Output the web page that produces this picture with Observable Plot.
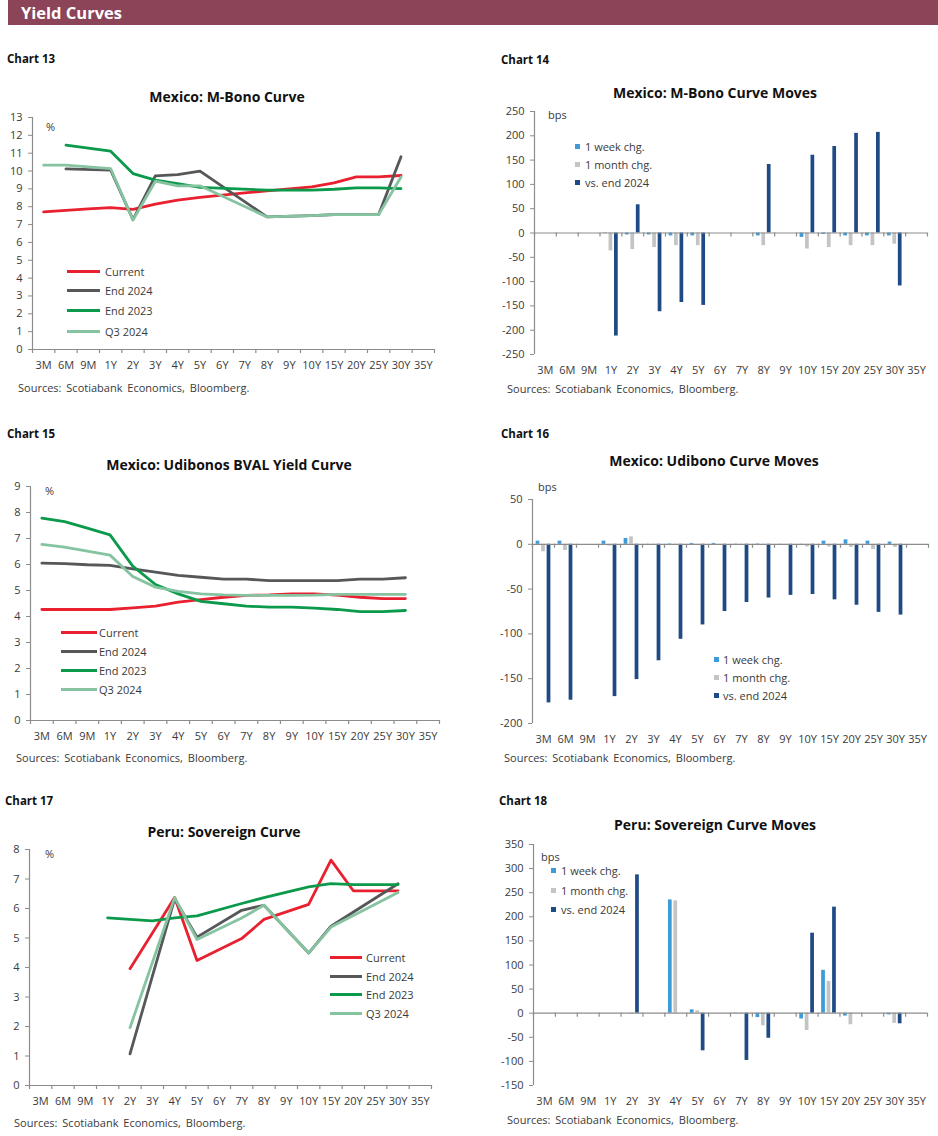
<!DOCTYPE html>
<html><head><meta charset="utf-8">
<script src="https://cdn.jsdelivr.net/npm/d3@7"></script>
<script src="https://cdn.jsdelivr.net/npm/@observablehq/plot@0.6"></script>
<style>
body{margin:0;background:#fff;font-family:"Open Sans",sans-serif;}
#page{position:relative;width:938px;height:1136px;overflow:hidden;background:#fff;}
.abs{position:absolute;white-space:nowrap;line-height:1;}
svg{position:absolute;overflow:visible;}
</style></head><body><div id="page"></div>
<script>
// ---------- data ----------
const tenors = ["3M","6M","9M","1Y","2Y","3Y","4Y","5Y","6Y","7Y","8Y","9Y","10Y","15Y","20Y","25Y","30Y","35Y"];
const lineNames = ["Current","End 2024","End 2023","Q3 2024"];
const barNames = ["1 week chg.","1 month chg.","vs. end 2024"];

// Chart 13: Mexico M-Bono curve (%)
const mbCurrent = [7.71,7.80,7.88,7.95,7.85,8.15,8.37,8.52,8.65,8.78,8.89,9.00,9.11,9.34,9.67,9.67,9.75,null];
const mbEnd2024 = [null,10.12,null,10.05,7.28,9.73,9.80,10.00,null,null,7.43,null,7.50,7.56,7.56,7.56,10.80,null];
const mbEnd2023 = [null,11.45,null,11.11,9.86,9.49,9.30,9.08,null,null,8.93,null,8.93,8.98,9.06,9.06,9.02,null];
const mbQ32024  = [10.33,10.33,null,10.14,7.25,9.43,9.17,9.17,null,null,7.43,null,7.50,7.56,7.56,7.56,9.67,null];

// Chart 14: Mexico M-Bono curve moves (bps)
const mbWeek  = [null,null,null,-1,-4,-4,-6,-6,null,null,-6,null,-9,-3,-6,-6,-6,null];
const mbMonth = [null,null,null,-37,-34,-30,-26,-26,null,null,-26,null,-33,-30,-26,-26,-23,null];
const mbVsEnd = [null,null,null,-212,58,-162,-143,-149,null,null,141,null,160,178,205,207,-109,null];

// Chart 15: Mexico Udibonos BVAL yield curve (%)
const udCurrent = [4.27,4.27,4.27,4.27,4.33,4.40,4.55,4.65,4.74,4.81,4.83,4.87,4.87,4.82,4.74,4.69,4.69,null];
const udEnd2024 = [6.05,6.03,5.99,5.97,5.83,5.71,5.58,5.51,5.44,5.44,5.38,5.38,5.38,5.38,5.44,5.44,5.49,null];
const udEnd2023 = [7.78,7.65,7.40,7.14,5.94,5.23,4.87,4.58,4.49,4.40,4.36,4.36,4.32,4.27,4.19,4.19,4.23,null];
const udQ32024  = [6.77,6.67,6.51,6.36,5.54,5.13,4.97,4.87,4.83,4.81,4.81,4.81,4.82,4.85,4.85,4.85,4.85,null];

// Chart 16: Mexico Udibono curve moves (bps)
const udWeek  = [3.5,3.5,null,3.5,6.5,-1.3,0.5,1,1,0.3,0.5,-0.5,-0.5,3.5,5,3.5,2.5,null];
const udMonth = [-8.4,-6.9,null,-2,8.3,-1,-0.5,-1,-0.5,-0.5,-0.5,-1,-3,-3,-3.5,-5.8,-3.5,null];
const udVsEnd = [-177,-174,null,-170,-151,-130,-106,-90,-75,-65,-60,-57,-56,-62,-68,-76,-79,null];

// Chart 17: Peru sovereign curve (%)
const peCurrent = [null,null,null,null,3.96,null,6.37,4.24,null,4.98,5.63,null,6.14,7.64,6.60,null,6.60,null];
const peEnd2024 = [null,null,null,null,1.07,null,6.33,5.03,null,5.94,6.11,null,4.49,5.40,null,null,6.84,null];
const peEnd2023 = [null,null,null,5.68,null,5.58,5.68,5.75,null,6.17,6.37,null,6.73,6.84,6.81,null,6.81,null];
const peQ32024  = [null,null,null,null,1.96,null,6.37,4.95,null,5.68,6.11,null,4.49,5.37,null,null,6.54,null];

// Chart 18: Peru sovereign curve moves (bps)
const peWeek  = [null,null,null,null,null,null,235,7,null,-1,-9,null,-12,89,-6,null,-3.5,null];
const peMonth = [null,null,null,null,-2,null,233,5,null,-1,-26,null,-36,66,-24,null,-21,null];
const peVsEnd = [null,null,null,null,287,null,null,-78,null,-98,-52,null,166,220,null,null,-22,null];

// ---------- styles ----------
const lineColors = ["#e8202f","#555759","#0b9a4b","#86c3a0"];
const barColors = ["#3d9bd7","#c4c4c4","#1e4b85"];
const axisColor = "#8c8c8c";
const page = document.getElementById("page");

function txt(s, x, y, css = {}, anchor = "start") {
  const d = document.createElement("div");
  d.className = "abs";
  d.textContent = s;
  d.style.left = x + "px";
  d.style.top = y + "px";
  d.style.transform = anchor === "middle" ? "translate(-50%,-50%)" : "translate(0,-50%)";
  Object.assign(d.style, css);
  page.appendChild(d);
}
function box(x, y, w, h, color) {
  const d = document.createElement("div");
  d.className = "abs";
  Object.assign(d.style, {left: x + "px", top: y + "px", width: w + "px", height: h + "px", background: color});
  page.appendChild(d);
}
const pts = arr => arr.map((v, i) => ({i, v})).filter(d => d.v != null);

function chart(c) {
  const fh = c.bottom - c.top;
  const mt = 12, mb = 34;
  const H = fh + mt + mb;
  const tl = 4 * (c.yDomain[1] - c.yDomain[0]) / fh;
  const marks = [
    Plot.axisY({ticks: c.yTicks, tickSize: 4, tickPadding: 6, tickFormat: d => String(d), stroke: axisColor, label: null}),
    Plot.axisX({ticks: d3.range(18), tickSize: 0, tickPadding: 12, tickFormat: i => tenors[i], label: null}),
    Plot.ruleX([-0.5], {stroke: axisColor, strokeWidth: 1.2}),
  ];
  if (c.lines) {
    c.lines.forEach((arr, k) => marks.push(Plot.line(pts(arr), {x: "i", y: "v", stroke: lineColors[k], strokeWidth: 2.8, strokeLinejoin: "round"})));
  }
  if (c.bars) {
    const offs = [-0.25, 0, 0.25], hw = 0.085;
    c.bars.forEach((arr, k) => marks.push(Plot.rect(pts(arr), {
      x1: d => d.i + offs[k] - hw, x2: d => d.i + offs[k] + hw, y1: 0, y2: "v", fill: barColors[k]})));
  }
  marks.push(Plot.ruleY([0], {stroke: axisColor, strokeWidth: 1.2}));
  marks.push(Plot.ruleX(d3.range(19).map(i => i - 0.5), {x: d => d, y1: 0, y2: -tl, stroke: axisColor, strokeWidth: 1.2}));
  const svg = Plot.plot({
    width: c.svgW, height: H,
    marginLeft: c.fl - c.left, marginRight: c.left + c.svgW - c.fr,
    marginTop: mt, marginBottom: mb,
    x: {type: "linear", domain: [-0.5, 17.5], axis: null},
    y: {domain: c.yDomain, axis: null},
    style: {fontFamily: "Open Sans, sans-serif", fontSize: "11px", color: "#3a3a3a", background: "transparent", overflow: "visible"},
    marks
  });
  svg.style.left = c.left + "px";
  svg.style.top = (c.top - mt) + "px";
  page.appendChild(svg);
}

// header
box(8, 0, 930, 25, "#8b4458");
txt("Yield Curves", 21, 13, {color: "#fff", fontWeight: "700", fontSize: "16.5px"});

const chartLbl = {fontWeight: "700", fontSize: "11.5px", color: "#111"};
const titleCss = {fontWeight: "700", fontSize: "14px", color: "#111"};
const srcCss = {fontSize: "11px", color: "#3a3a3a", wordSpacing: "2px"};
const legCss = {fontSize: "11px", color: "#3a3a3a"};
const unitCss = {fontSize: "11px", color: "#3a3a3a"};

function lineLegend(x1, x2, xl, rows) {
  rows.forEach((y, k) => { box(x1, y - 1.5, x2 - x1, 3, lineColors[k]); txt(lineNames[k], xl, y, legCss); });
}
function barLegend(xs, xl, rows) {
  rows.forEach((y, k) => { box(xs, y - 2.5, 5, 5, barColors[k]); txt(barNames[k], xl, y, legCss); });
}

// Chart 13
txt("Chart 13", 7, 59, chartLbl);
txt("Mexico: M-Bono  Curve", 227, 97, titleCss, "middle");
chart({left: 0, svgW: 460, fl: 32, fr: 434, top: 117, bottom: 349, yDomain: [0, 13], yTicks: d3.range(0, 14), lines: [mbCurrent, mbEnd2024, mbEnd2023, mbQ32024]});
txt("%", 46, 126, unitCss);
lineLegend(67, 100, 105, [271, 290, 310, 331]);
txt("Sources:  Scotiabank  Economics,  Bloomberg.", 18, 387, srcCss);

// Chart 14
txt("Chart 14", 501, 60, chartLbl);
txt("Mexico: M-Bono  Curve Moves", 715, 93, titleCss, "middle");
chart({left: 470, svgW: 468, fl: 534, fr: 927, top: 111, bottom: 354, yDomain: [-250, 250], yTicks: d3.range(-250, 251, 50), bars: [mbWeek, mbMonth, mbVsEnd]});
txt("bps", 548, 114, unitCss);
barLegend(575, 585, [146, 164, 182]);
txt("Sources:  Scotiabank  Economics,  Bloomberg.", 507, 388, srcCss);

// Chart 15
txt("Chart 15", 7, 434, chartLbl);
txt("Mexico: Udibonos BVAL Yield Curve", 229, 465, titleCss, "middle");
chart({left: 0, svgW: 460, fl: 30, fr: 439, top: 486, bottom: 720, yDomain: [0, 9], yTicks: d3.range(0, 10), lines: [udCurrent, udEnd2024, udEnd2023, udQ32024]});
txt("%", 45, 490, unitCss);
lineLegend(61, 97, 99, [632, 651, 670, 689]);
txt("Sources:  Scotiabank  Economics,  Bloomberg.", 16, 757, srcCss);

// Chart 16
txt("Chart 16", 501, 434, chartLbl);
txt("Mexico: Udibono  Curve Moves", 714, 461, titleCss, "middle");
chart({left: 470, svgW: 468, fl: 532, fr: 928, top: 499, bottom: 723, yDomain: [-200, 50], yTicks: d3.range(-200, 51, 50), bars: [udWeek, udMonth, udVsEnd]});
txt("bps", 538, 486, unitCss);
barLegend(714, 723, [659, 677, 695]);
txt("Sources:  Scotiabank  Economics,  Bloomberg.", 504, 757, srcCss);

// Chart 17
txt("Chart 17", 5, 801, chartLbl);
txt("Peru: Sovereign Curve", 224, 832, titleCss, "middle");
chart({left: 0, svgW: 460, fl: 29, fr: 431, top: 849, bottom: 1085, yDomain: [0, 8], yTicks: d3.range(0, 9), lines: [peCurrent, peEnd2024, peEnd2023, peQ32024]});
txt("%", 45, 853, unitCss);
lineLegend(330, 362, 366, [957, 976, 994, 1013]);
txt("Sources:  Scotiabank  Economics,  Bloomberg.", 14, 1122, srcCss);

// Chart 18
txt("Chart 18", 499, 801, chartLbl);
txt("Peru: Sovereign Curve Moves", 715, 825, titleCss, "middle");
chart({left: 470, svgW: 468, fl: 533, fr: 927, top: 844, bottom: 1085, yDomain: [-150, 350], yTicks: d3.range(-150, 351, 50), bars: [peWeek, peMonth, peVsEnd]});
txt("bps", 541, 856, unitCss);
barLegend(551, 561, [870, 890, 909]);
txt("Sources:  Scotiabank  Economics,  Bloomberg.", 507, 1119, srcCss);
</script></body></html>
